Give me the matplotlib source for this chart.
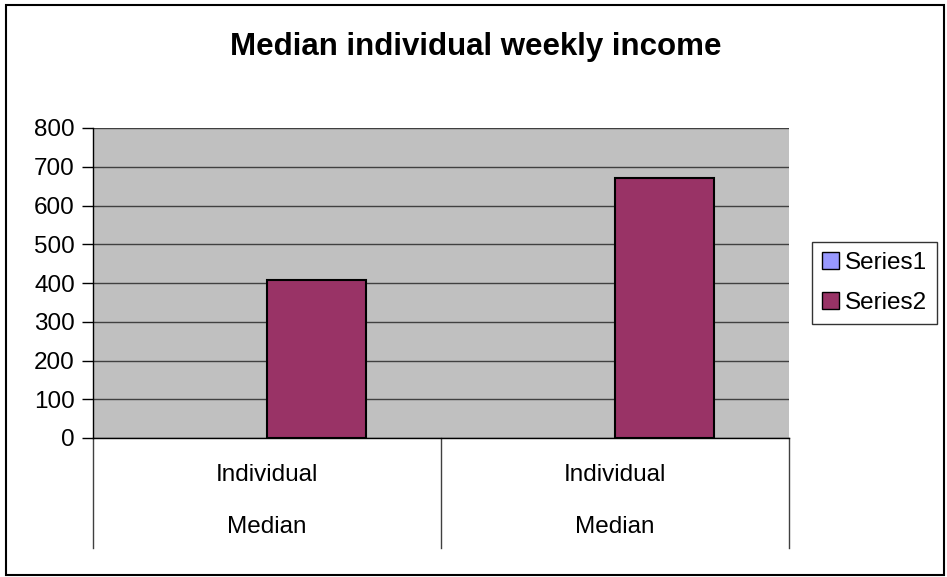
import matplotlib.pyplot as plt
from matplotlib.patches import Rectangle, Patch

plt.rcParams['font.family'] = ['Liberation Sans', 'DejaVu Sans']

categories = ['Individual\n\nMedian', 'Individual\n\nMedian']
series1 = [0, 0]
series2 = [408, 671]
yticks = [0, 100, 200, 300, 400, 500, 600, 700, 800]

W, H = 947, 577
fs = 17.5
fig = plt.figure(figsize=(W / 100, H / 100), dpi=100)

# chart frame
fig.patches.append(Rectangle((6 / W, 1 - 575 / H), 938 / W, 570 / H,
                             transform=fig.transFigure, fill=False,
                             edgecolor='black', linewidth=1.5))

# plot area in pixel coords: x 93..789, y 128..438
ax = fig.add_axes([93 / W, 1 - 438 / H, 696 / W, 310 / H])
ax.set_facecolor('#C0C0C0')

x = range(len(categories))
bw = 0.2857
ax.bar([i - bw / 2 for i in x], series1, bw, color='#9999FF',
       edgecolor='black', linewidth=0, label='Series1', zorder=3)
ax.bar([i + bw / 2 for i in x], series2, bw, color='#993366',
       edgecolor='black', linewidth=1.5, label='Series2', zorder=3)

ax.set_xlim(-0.5, len(categories) - 0.5)
ax.set_ylim(0, 800)
ax.set_yticks(yticks)
ax.yaxis.grid(True, color='#404040', linewidth=1)
ax.set_axisbelow(True)
ax.tick_params(axis='y', direction='out', length=8, width=1, labelsize=fs,
               pad=5)
ax.set_xticks([])
for s in ['top', 'right']:
    ax.spines[s].set_visible(False)
ax.spines['left'].set_linewidth(1)
ax.spines['bottom'].set_linewidth(1)
ax.spines['bottom'].set_bounds(-0.5, len(categories) - 0.5)

# category separators hanging below the axis
for b in range(len(categories) + 1):
    ax.plot([b - 0.5, b - 0.5], [0, -110 / 310 * 800], color='#404040',
            linewidth=1, clip_on=False)

# two-line category labels
for i, lab in enumerate(categories):
    top, bottom = lab.split('\n\n')
    ax.text(i, -37 / 310 * 800, top, ha='center', va='center', fontsize=fs)
    ax.text(i, -89 / 310 * 800, bottom, ha='center', va='center', fontsize=fs)

fig.text((228 + 724) / 2 / W, 1 - 47 / H, 'Median individual weekly income',
         ha='center', va='center', fontsize=22.5, fontweight='bold')

handles = [Patch(facecolor='#9999FF', edgecolor='black', label='Series1'),
           Patch(facecolor='#993366', edgecolor='black', label='Series2')]
fig.legend(handles=handles, loc='center left',
           bbox_to_anchor=(812 / W, 1 - 283 / H), frameon=True,
           fancybox=False, edgecolor='black', fontsize=fs,
           handlelength=0.7, handleheight=0.7, handletextpad=0.25,
           borderpad=0.4, labelspacing=0.75, borderaxespad=0)

fig.savefig('out.png', dpi=100)
